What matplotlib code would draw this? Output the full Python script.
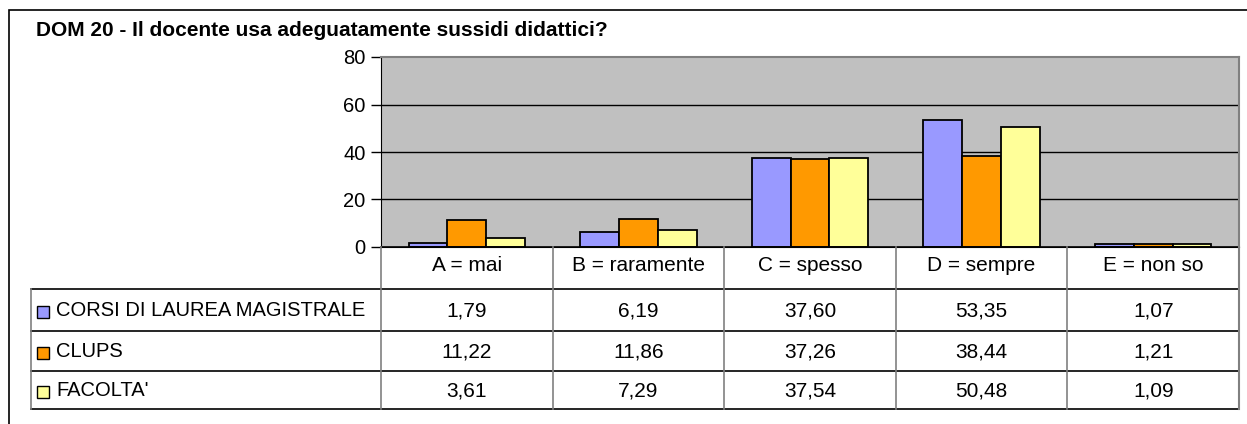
import matplotlib
matplotlib.use("Agg")
import matplotlib.pyplot as plt
from matplotlib.patches import Rectangle

plt.rcParams['font.family'] = ['Liberation Sans', 'DejaVu Sans']

titolo = "DOM 20 - Il docente usa adeguatamente sussidi didattici?"
categorie = ['A = mai', 'B = raramente', 'C = spesso', 'D = sempre', 'E = non so']
serie = ['CORSI DI LAUREA MAGISTRALE', 'CLUPS', "FACOLTA'"]
corsi = [1.79, 6.19, 37.60, 53.35, 1.07]
clups = [11.22, 11.86, 37.26, 38.44, 1.21]
facolta = [3.61, 7.29, 37.54, 50.48, 1.09]
colori = ['#9999FF', '#FF9900', '#FFFF99']
yticks = [0, 20, 40, 60, 80]

W, H = 1247, 424
fig = plt.figure(figsize=(W / 100, H / 100), dpi=100)


def fx(px):
    return px / W


def fy(py):
    return 1 - py / H


# cornice esterna (tagliata a destra e in basso)
fig.add_artist(Rectangle((fx(9), fy(430)), fx(1250), fy(10) - fy(430),
                         transform=fig.transFigure, fill=False,
                         edgecolor='#000000', linewidth=1.2))

fig.text(fx(36), fy(30), titolo, fontsize=15, fontweight='bold',
         ha='left', va='center')

# area del grafico
left, right, top, bottom = 381, 1239, 57, 247
ax = fig.add_axes([fx(left), fy(bottom), fx(right - left), fy(top) - fy(bottom)])
ax.set_facecolor('#C0C0C0')
ax.set_xlim(-0.5, len(categorie) - 0.5)
ax.set_ylim(0, 80)
ax.set_yticks(yticks)
ax.set_yticklabels([str(t) for t in yticks], fontsize=14.5)
ax.set_xticks([])
ax.tick_params(axis='y', length=7, width=1, color='#000000', pad=4)
for t in yticks[1:-1]:
    ax.axhline(t, color='#000000', linewidth=1, zorder=1)
for s in ['top', 'right']:
    ax.spines[s].set_color('#808080')
    ax.spines[s].set_linewidth(1.5)
ax.spines['left'].set_color('#000000')
ax.spines['bottom'].set_color('#000000')

w = 0.226
valori = [corsi, clups, facolta]
for k, (vals, col) in enumerate(zip(valori, colori)):
    xs = [i + (k - 1) * w for i in range(len(categorie))]
    ax.bar(xs, vals, width=w, color=col, edgecolor='#000000', linewidth=1.3, zorder=3)

# tabella dati
tl = 31
tb = 409
colw = (right - left) / len(categorie)
tab = fig.add_axes([fx(tl), fy(tb), fx(right - tl), fy(bottom) - fy(tb)])
tab.set_xlim(-0.5 - (left - tl) / colw, len(categorie) - 0.5)
rows_px = [247, 289, 331, 371, 409]
tab.set_ylim(rows_px[-1], rows_px[0])
tab.axis('off')
x0 = -0.5 - (left - tl) / colw
xe = len(categorie) - 0.5
# linee orizzontali
tab.plot([-0.5, xe], [rows_px[0]] * 2, color='#000000', lw=1.2, clip_on=False)
for r in rows_px[1:]:
    tab.plot([x0, xe], [r, r], color='#000000', lw=1.2, clip_on=False)
# linee verticali
tab.plot([x0, x0], [rows_px[1], rows_px[-1]], color='#808080', lw=1.2, clip_on=False)
for i in range(len(categorie) + 1):
    tab.plot([i - 0.5, i - 0.5], [rows_px[0], rows_px[-1]], color='#808080',
             lw=1.5 if i == len(categorie) else 1.2, clip_on=False)

for i, cat in enumerate(categorie):
    tab.text(i, (rows_px[0] + rows_px[1]) / 2 - 2, cat, fontsize=15,
             ha='center', va='center')

for j, (nome, vals, col) in enumerate(zip(serie, valori, colori)):
    yc = (rows_px[j + 1] + rows_px[j + 2]) / 2 + 1
    tab.add_patch(Rectangle((x0 + 6 / colw, yc - 5), 12 / colw, 12, facecolor=col,
                            edgecolor='#000000', linewidth=1, clip_on=False))
    tab.text(x0 + 25 / colw, yc, nome, fontsize=14.5, ha='left', va='center')
    for i, v in enumerate(vals):
        tab.text(i, yc, f"{v:.2f}".replace('.', ','), fontsize=15,
                 ha='center', va='center')

fig.savefig('out.png', dpi=100)
